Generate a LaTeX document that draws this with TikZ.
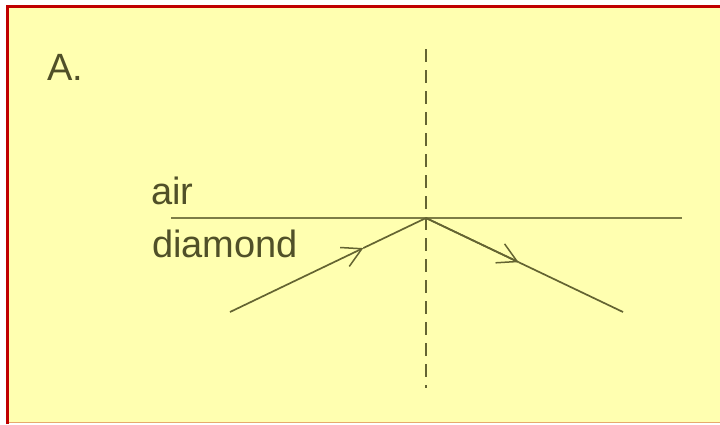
\documentclass[tikz,border=0pt]{standalone}
\usepackage{fontspec}
\setmainfont{Liberation Sans}
\usetikzlibrary{arrows.meta,calc}
\definecolor{bg}{RGB}{255,255,176}
\definecolor{ink}{RGB}{100,100,50}
\definecolor{surf}{RGB}{125,125,70}
\definecolor{txt}{RGB}{80,80,40}
\definecolor{frame}{RGB}{192,0,0}
\definecolor{botline}{RGB}{230,170,110}
\tikzset{
  ray/.style={draw=ink, line width=1.7pt},
  barb/.style={-{Straight Barb[length=19pt,width=21pt,line width=1.5pt]}},
  lbl/.style={text=txt, inner sep=0pt, anchor=base west, font=\fontsize{38}{40}\selectfont},
}
\begin{document}
\begin{tikzpicture}[x=1pt,y=-1pt]
\useasboundingbox (0,0) rectangle (720,424);
\fill[white] (0,0) rectangle (720,424);
\fill[bg] (7,6) rectangle (720,422);
\draw[frame, line width=3pt] (7.5,424) -- (7.5,6.5) -- (720,6.5);
\draw[botline, line width=1.5pt] (9,422.5) -- (720,422.5);
% labels
\node[lbl] (A) at (47,80) {A.};
\node[lbl] (air) at (151,204) {air};
\node[lbl] (dia) at (152,257) {diamond};
% geometry
\coordinate (P) at (426,218);
\coordinate (Ntop) at (426,49);
\coordinate (Nbot) at (426,388);
\coordinate (Sl) at (171,218);
\coordinate (Sr) at (682,218);
\coordinate (In) at (230,312);
\coordinate (Out) at (623,312);
\coordinate (Ta) at ($(In)!0.68!(P)$);
\coordinate (Tb) at ($(P)!0.47!(Out)$);
\draw[ink, line width=1.9pt, dash pattern=on 13pt off 8pt] (Ntop) -- (Nbot);
\draw[surf, line width=2pt] (Sl) -- (Sr);
\draw[ray, barb] (In) -- (Ta);
\draw[ray] (Ta) -- (P) -- (Tb);
\draw[ray, barb] (P) -- (Tb);
\draw[ray] (Tb) -- (Out);
\end{tikzpicture}
\end{document}
